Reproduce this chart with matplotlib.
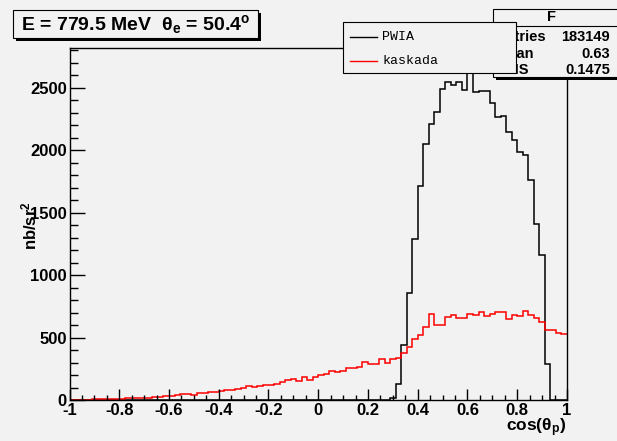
import numpy as np
import matplotlib
matplotlib.use("Agg")
import matplotlib.pyplot as plt
from matplotlib.patches import Rectangle
from matplotlib.lines import Line2D

plt.rcParams['font.family'] = ['Liberation Sans', 'DejaVu Sans']
plt.rcParams['mathtext.fontset'] = 'custom'
plt.rcParams['mathtext.rm'] = 'Liberation Sans:bold'
plt.rcParams['mathtext.bf'] = 'Liberation Sans:bold'
plt.rcParams['mathtext.it'] = 'Liberation Sans:bold'

# histogram binning: 90 bins on cos(theta_p) in [-1, 1]
n_bins = 90
x_lo, x_hi = -1.0, 1.0

# PWIA counts per bin (nb/sr^2)
pwia = [
    0, 0, 0, 0, 0, 0, 0, 0, 0, 0,
    0, 0, 0, 0, 0, 0, 0, 0, 0, 0,
    0, 0, 0, 0, 0, 0, 0, 0, 0, 0,
    0, 0, 0, 0, 0, 0, 0, 0, 0, 0,
    0, 0, 0, 0, 0, 0, 0, 0, 0, 0,
    0, 0, 0, 0, 0, 0, 0, 0, 15, 128,
    441, 861, 1290, 1717, 2054, 2215, 2306, 2493, 2547, 2523,
    2547, 2482, 2685, 2466, 2474, 2474, 2381, 2266, 2279, 2145,
    2081, 1985, 1966, 1760, 1412, 1164, 286, 0, 0, 0,
]

# kaskada counts per bin
kaskada = [
    2, 3, 3, 4, 5, 6, 7, 8, 10, 12,
    13, 14, 15, 17, 19, 21, 28, 33, 36, 42,
    45, 52, 40, 59, 59, 65, 67, 70, 77, 78,
    86, 96, 110, 106, 112, 120, 121, 131, 147, 160,
    166, 150, 182, 157, 185, 199, 208, 235, 222, 236,
    254, 255, 262, 308, 289, 290, 326, 300, 326, 337,
    380, 423, 490, 522, 583, 690, 602, 602, 664, 682,
    655, 655, 690, 678, 704, 669, 690, 706, 705, 647,
    679, 671, 711, 682, 653, 621, 557, 562, 535, 527,
]

y_max = 2820
x_ticks = [-1, -0.8, -0.6, -0.4, -0.2, 0, 0.2, 0.4, 0.6, 0.8, 1]
x_tick_labels = ["-1", "-0.8", "-0.6", "-0.4", "-0.2", "0", "0.2", "0.4", "0.6", "0.8", "1"]
y_ticks = [0, 500, 1000, 1500, 2000, 2500]

title = r"E = 779.5 MeV  $\mathrm{\theta}_{e}$ = 50.4$^{o}$"
stats_name = "F"
stats_rows = [("Entries", "183149"), ("Mean", "0.63"), ("RMS", "0.1475")]

W, H = 617, 441
bg = "#f2f2f2"

fig = plt.figure(figsize=(W / 100, H / 100), dpi=100, facecolor=bg)


def fx(px):
    return px / W


def fy(py):
    return 1 - py / H


ax = fig.add_axes([fx(69.5), fy(400), fx(567) - fx(69.5), fy(48) - fy(400)])
ax.set_facecolor(bg)

edges = np.linspace(x_lo, x_hi, n_bins + 1)
ax.stairs(pwia, edges, color="black", lw=1.1)
ax.stairs(kaskada, edges, color="red", lw=1.1, baseline=None)

ax.set_xlim(x_lo, x_hi)
ax.set_ylim(0, y_max)
ax.set_xticks(x_ticks)
ax.set_xticklabels(x_tick_labels)
ax.set_yticks(y_ticks)
ax.set_xticks(np.arange(-1, 1.001, 0.05), minor=True)
ax.set_yticks(np.arange(0, y_max, 100), minor=True)
ax.tick_params(axis="both", which="both", direction="in", top=False, right=False,
               labelsize=12, width=1.0)
ax.tick_params(axis="x", which="major", length=7.6, pad=2)
ax.tick_params(axis="x", which="minor", length=3.8)
ax.tick_params(axis="y", which="major", length=10.8, pad=2)
ax.tick_params(axis="y", which="minor", length=5.4)
for lab in ax.get_xticklabels() + ax.get_yticklabels():
    lab.set_fontweight("bold")
for side in ["left", "bottom", "top", "right"]:
    ax.spines[side].set_linewidth(1.0)
    ax.spines[side].set_color("black")

# axis titles
fig.text(fx(566), fy(428), r"cos($\mathrm{\theta}_{p}$)", ha="right", va="center",
         fontsize=12.5, fontweight="bold")
fig.text(fx(29), fy(226), r"nb/sr$^{2}$", ha="center", va="center", rotation=90,
         fontsize=12, fontweight="bold")


def root_box(x0, y0, x1, y1, shadow=3, z=5):
    # drop shadow first, then the box itself
    if shadow:
        fig.patches.append(Rectangle((fx(x0 + shadow), fy(y1 + shadow)),
                                     fx(x1 - x0), fy(y0) - fy(y1),
                                     transform=fig.transFigure, facecolor="black",
                                     edgecolor="none", zorder=z))
    fig.patches.append(Rectangle((fx(x0), fy(y1)), fx(x1 - x0), fy(y0) - fy(y1),
                                 transform=fig.transFigure, facecolor=bg,
                                 edgecolor="black", lw=0.8, zorder=z + 0.1))


# title box
root_box(13, 10, 258, 38, shadow=3)
fig.text(fx(136), fy(24), title, ha="center", va="center", fontsize=14,
         fontweight="bold", zorder=6)

# statistics box
root_box(493, 9, 620, 77, shadow=3, z=7)
fig.lines.append(Line2D([fx(493), fx(620)], [fy(25.5), fy(25.5)],
                        transform=fig.transFigure, color="black", lw=0.8, zorder=7.5))
fig.text(fx(552), fy(17), stats_name, ha="center", va="center", fontsize=10.5,
         fontweight="bold", zorder=7.5)
for i, (k, v) in enumerate(stats_rows):
    yy = fy(37 + i * 16.7)
    fig.text(fx(496), yy, k, ha="left", va="center", fontsize=10.5,
             fontweight="bold", zorder=7.5)
    fig.text(fx(610), yy, v, ha="right", va="center", fontsize=10.5,
             fontweight="bold", zorder=7.5)

# legend box drawn over the stats box
root_box(343, 22, 516, 73, shadow=0, z=9)
legend_rows = [("PWIA", "black", 37), ("kaskada", "red", 61)]
for name, col, py in legend_rows:
    fig.lines.append(Line2D([fx(350), fx(377)], [fy(py), fy(py)],
                            transform=fig.transFigure, color=col, lw=1.0, zorder=9.5))
    fig.text(fx(382), fy(py), name, ha="left", va="center", fontsize=9.5,
             family="Liberation Mono", zorder=9.5)

fig.savefig("out.png", dpi=100, facecolor=bg)
